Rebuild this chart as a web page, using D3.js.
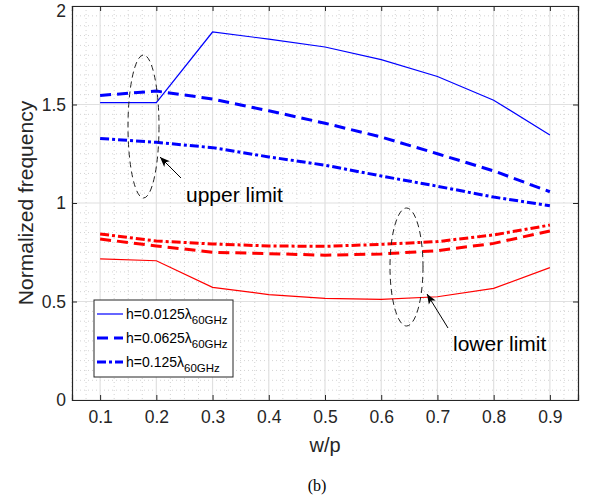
<!DOCTYPE html>
<html><head><meta charset="utf-8">
<script src="https://cdn.jsdelivr.net/npm/d3@7"></script>
<style>body{margin:0;background:#fff}svg{display:block}text{font-family:"Liberation Sans",Arial,sans-serif}</style>
</head><body><svg id="c" width="589" height="500"></svg>
<script>
const wp = [0.1,0.2,0.3,0.4,0.5,0.6,0.7,0.8,0.9];
const upperThin = [1.51,1.51,1.868,1.832,1.792,1.728,1.642,1.522,1.345];
const upperMid = [1.546,1.568,1.528,1.468,1.405,1.335,1.25,1.163,1.057];
const upperThick = [1.328,1.308,1.281,1.234,1.192,1.137,1.085,1.03,0.986];
const lowerThin = [0.716,0.707,0.572,0.535,0.516,0.511,0.524,0.567,0.672];
const lowerMid = [0.817,0.782,0.75,0.743,0.735,0.741,0.758,0.795,0.858];
const lowerThick = [0.843,0.807,0.792,0.782,0.78,0.79,0.804,0.838,0.888];
const xTicks = [0.1,0.2,0.3,0.4,0.5,0.6,0.7,0.8,0.9];
const yTicks = [0,0.5,1,1.5,2];
const legendLabels = ["h=0.0125", "h=0.0625", "h=0.125"];

const svg = d3.select("#c");
const L=72,R=578,T=6,B=400;
const x = d3.scaleLinear().domain([0.05,0.95]).range([L,R]);
const y = d3.scaleLinear().domain([0,2]).range([B,T]);

// minor grid
const g = svg.append("g");
const xMinor = d3.range(0.05,0.95001,0.025).filter(v=>Math.abs(Math.round(v*10)-v*10)>1e-6);
const yMinor = d3.range(0,2.0001,0.05).filter(v=>Math.abs(Math.round(v*2)-v*2)>1e-6);
g.selectAll(".xm").data(xMinor).enter().append("line")
 .attr("x1",d=>x(d)).attr("x2",d=>x(d)).attr("y1",T).attr("y2",B)
 .attr("stroke","#c8c8c8").attr("stroke-width",0.8).attr("stroke-dasharray","1,3");
g.selectAll(".ym").data(yMinor).enter().append("line")
 .attr("y1",d=>y(d)).attr("y2",d=>y(d)).attr("x1",L).attr("x2",R)
 .attr("stroke","#c8c8c8").attr("stroke-width",0.8).attr("stroke-dasharray","1,3");
// major grid
g.selectAll(".xg").data(xTicks).enter().append("line")
 .attr("x1",d=>x(d)).attr("x2",d=>x(d)).attr("y1",T).attr("y2",B)
 .attr("stroke","#e0e0e0").attr("stroke-width",1.2);
g.selectAll(".yg").data(yTicks).enter().append("line")
 .attr("y1",d=>y(d)).attr("y2",d=>y(d)).attr("x1",L).attr("x2",R)
 .attr("stroke","#e0e0e0").attr("stroke-width",1.2);

// lines
const line = d3.line().x((d,i)=>x(wp[i])).y(d=>y(d));
const series = [
 {v:upperThin,c:"#0000ff",w:1.2,da:null},
 {v:upperMid,c:"#0000ff",w:3,da:"11,6"},
 {v:upperThick,c:"#0000ff",w:3,da:"9,3,3,3"},
 {v:lowerThin,c:"#ff0000",w:1.2,da:null},
 {v:lowerMid,c:"#ff0000",w:3,da:"11,6"},
 {v:lowerThick,c:"#ff0000",w:3,da:"9,3,3,3"}
];
series.forEach(s=>{
 svg.append("path").datum(s.v).attr("d",line).attr("fill","none")
  .attr("stroke",s.c).attr("stroke-width",s.w).attr("stroke-dasharray",s.da);
});

// axes
const ac="#262626";
const ax = svg.append("g").attr("transform",`translate(0,${B})`)
 .call(d3.axisBottom(x).tickValues(xTicks).tickSize(-5).tickPadding(11).tickFormat(d3.format(".1f")));
const axT = svg.append("g").attr("transform",`translate(0,${T})`)
 .call(d3.axisTop(x).tickValues(xTicks).tickSize(-5).tickFormat(""));
const ay = svg.append("g").attr("transform",`translate(${L},0)`)
 .call(d3.axisLeft(y).tickValues(yTicks).tickSize(-5).tickPadding(6).tickFormat(d=>d3.format("")(d)));
const ayR = svg.append("g").attr("transform",`translate(${R},0)`)
 .call(d3.axisRight(y).tickValues(yTicks).tickSize(-5).tickFormat(""));
[ax,axT,ay,ayR].forEach(a=>{
 a.select(".domain").attr("stroke",ac).attr("stroke-width",1.2);
 a.selectAll(".tick line").attr("stroke",ac);
 a.selectAll("text").attr("fill",ac).style("font-size","17.5px").style("font-family","Liberation Sans, Arial, sans-serif");
});
ay.selectAll(".tick text").filter(d=>d===2).attr("dy","0.6em");

// axis labels
svg.append("text").attr("x",(L+R)/2).attr("y",452).attr("text-anchor","middle")
 .style("font-size","20px").attr("fill",ac).text("w/p");
svg.append("text").attr("transform",`translate(33,${(T+B)/2}) rotate(-90)`).attr("text-anchor","middle")
 .style("font-size","21px").attr("fill",ac).text("Normalized frequency");
svg.append("text").attr("x",317).attr("y",491).attr("text-anchor","middle")
 .style("font-size","16px").style("font-family","Liberation Serif, Times New Roman, serif").attr("fill","#000").text("(b)");

// annotations
svg.append("ellipse").attr("cx",143.5).attr("cy",126.5).attr("rx",15.5).attr("ry",71.5)
 .attr("fill","none").attr("stroke","#222").attr("stroke-width",1).attr("stroke-dasharray","6,4");
svg.append("ellipse").attr("cx",406.5).attr("cy",267).attr("rx",16.5).attr("ry",59)
 .attr("fill","none").attr("stroke","#222").attr("stroke-width",1).attr("stroke-dasharray","6,4");
function arrow(x1,y1,x2,y2){
 svg.append("line").attr("x1",x1).attr("y1",y1).attr("x2",x2).attr("y2",y2).attr("stroke","#000").attr("stroke-width",1);
 const a=Math.atan2(y2-y1,x2-x1), len=10, wd=4;
 const bx=x2-len*Math.cos(a), by=y2-len*Math.sin(a);
 const px=-Math.sin(a)*wd, py=Math.cos(a)*wd;
 svg.append("path").attr("d",`M${x2},${y2}L${bx+px},${by+py}L${bx+len*0.25*Math.cos(a)},${by+len*0.25*Math.sin(a)}L${bx-px},${by-py}Z`).attr("fill","#000");
}
arrow(181,178,160,157);
arrow(448,328,427,294);
svg.append("text").attr("x",186).attr("y",202).style("font-size","21px").attr("fill","#000").text("upper limit");
svg.append("text").attr("x",453).attr("y",351).style("font-size","21px").attr("fill","#000").text("lower limit");

// legend
const lg = svg.append("g");
lg.append("rect").attr("x",94).attr("y",300).attr("width",139).attr("height",77)
 .attr("fill","#fff").attr("stroke",ac).attr("stroke-width",1);
const lstyles = series.slice(0,3);
legendLabels.forEach((t,i)=>{
 const yy = 314 + i*24;
 lg.append("line").attr("x1",97).attr("x2",123).attr("y1",yy).attr("y2",yy)
  .attr("stroke",lstyles[i].c).attr("stroke-width",lstyles[i].w).attr("stroke-dasharray",lstyles[i].da);
 const tx = lg.append("text").attr("x",126).attr("y",yy+5).style("font-size","14px").attr("fill","#000");
 tx.append("tspan").text(t+"λ");
 tx.append("tspan").attr("dy",5).style("font-size","11.5px").text("60GHz");
});
</script></body></html>
